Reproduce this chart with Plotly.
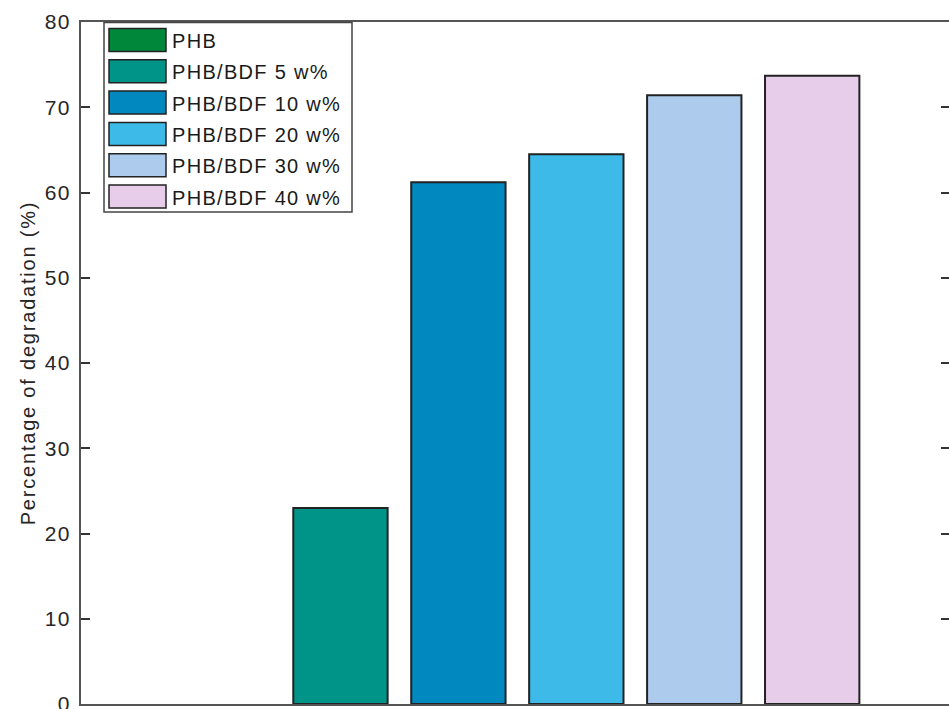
import plotly.graph_objects as go

# ---- data ----
series_names = ["PHB", "PHB/BDF 5 w%", "PHB/BDF 10 w%", "PHB/BDF 20 w%", "PHB/BDF 30 w%", "PHB/BDF 40 w%"]
degradation = [0.0, 23.0, 61.2, 64.5, 71.4, 73.7]
bar_colors = ["#00873A", "#009488", "#0088BF", "#3DBAE8", "#ADCBEC", "#E7CDEA"]
y_ticks = [0, 10, 20, 30, 40, 50, 60, 70, 80]
y_title = "Percentage of degradation (%)"

W, H = 949, 709
ML, MR, MT, MB = 81, 0, 22, 5
FONT = "Arial, 'Liberation Sans', Helvetica, sans-serif"
TXT = "#262626"

def spaced(s, ls):
    return "<span style='letter-spacing:%.2fpx'>%s</span>" % (ls, s)

fig = go.Figure()
fig.add_trace(go.Bar(
    x=series_names,
    y=degradation,
    width=0.8,
    marker=dict(color=bar_colors,
                line=dict(color="#222222", width=[2 if v > 0 else 0 for v in degradation])),
    showlegend=False,
))
# invisible trace to host the mirrored right-side ticks
fig.add_trace(go.Scatter(x=[series_names[0]], y=[0], yaxis="y2", mode="markers",
                         marker=dict(opacity=0), showlegend=False, hoverinfo="skip"))

fig.update_layout(
    width=W, height=H,
    margin=dict(l=ML, r=MR, t=MT, b=MB),
    paper_bgcolor="white", plot_bgcolor="white",
    font=dict(family=FONT, size=18, color=TXT),
    xaxis=dict(
        type="category", range=[-1.2, 6.16], automargin=False,
        showticklabels=False, ticks="", showgrid=False, zeroline=False,
        showline=True, mirror=True, linecolor="#555555", linewidth=2,
    ),
    yaxis=dict(
        range=[0, 80], tickvals=y_ticks, automargin=False,
        ticktext=[spaced(str(v), 1.3) for v in y_ticks],
        ticks="inside", ticklen=9,
        tickcolor="#333333", tickwidth=1.5,
        showgrid=False, zeroline=False,
        showline=True, linecolor="#555555", linewidth=2,
        tickfont=dict(size=21, color=TXT),
        ticklabelstandoff=4, ticklabeloverflow="allow",
        title=dict(text=spaced(y_title, 1.8), standoff=4,
                   font=dict(size=20, color=TXT)),
    ),
    yaxis2=dict(
        overlaying="y", side="right", range=[0, 80], tickvals=y_ticks, automargin=False,
        ticks="inside", ticklen=8, tickcolor="#333333", tickwidth=1.5,
        showticklabels=False, showgrid=False, zeroline=False, showline=False,
    ),
)

# ---- custom legend (MATLAB style wide swatches), coordinates in screen pixels ----
pw = W - ML - MR
ph = H - MT - MB
def px(x):
    return (x - ML) / pw
def py(y):
    return (H - MB - y) / ph

shapes = []
annotations = []
shapes.append(dict(type="rect", xref="paper", yref="paper",
                   x0=px(104), x1=px(352), y0=py(212), y1=py(22.5),
                   line=dict(color="#444444", width=1.5), fillcolor="white", layer="above"))
row0, pitch = 40.0, 31.3
for i, (name, col) in enumerate(zip(series_names, bar_colors)):
    cy = row0 + i * pitch
    shapes.append(dict(type="rect", xref="paper", yref="paper",
                       x0=px(109), x1=px(166), y0=py(cy + 11.5), y1=py(cy - 11.5),
                       line=dict(color="#222222", width=1.5), fillcolor=col, layer="above"))
    annotations.append(dict(xref="paper", yref="paper", x=px(170), y=py(cy + 1),
                            text=spaced(name, 1.3), showarrow=False,
                            xanchor="left", yanchor="middle",
                            font=dict(size=20, color="#1a1a1a", family=FONT)))
fig.update_layout(shapes=shapes, annotations=annotations)

fig.write_html(
    "out.html",
    config={"displayModeBar": False},
    post_script="document.body.style.margin='0';document.body.style.overflow='hidden';",
)
